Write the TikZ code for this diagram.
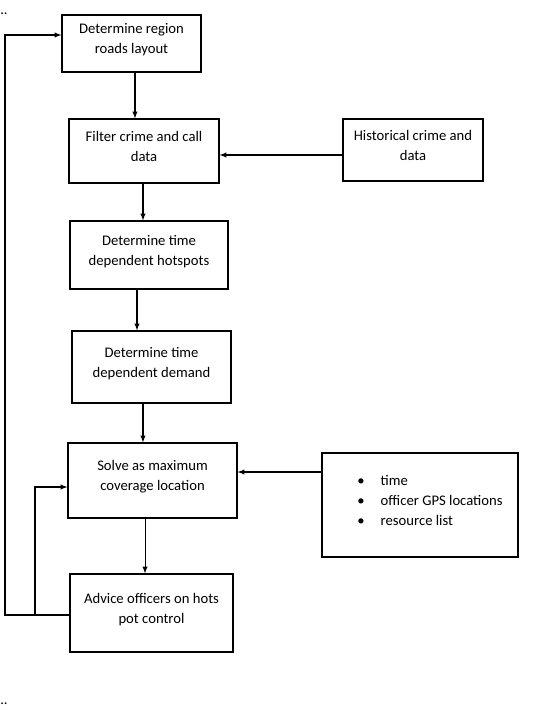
\documentclass[tikz,border=0pt]{standalone}
\usepackage{fontspec}
\setmainfont{Carlito}
\tikzset{
  stepbox/.style={draw,black,line width=0.8pt,align=center,text depth=7pt,font=\fontsize{11}{15}\selectfont},
  flow/.style={->,line width=0.8pt}
}
\begin{document}
\begin{tikzpicture}[x=0.75pt,y=-0.75pt,>=latex]
\useasboundingbox (0,0) rectangle (554,711);
\node[stepbox,minimum width=104.25pt,minimum height=42.75pt] (region) at (131.5,43.5) {Determine region\\roads layout};
\node[stepbox,minimum width=112.5pt,minimum height=48pt] (filter) at (144,151) {Filter crime and call\\data};
\node[stepbox,minimum width=105pt,minimum height=46.5pt] (history) at (413,150) {Historical crime and\\data};
\node[stepbox,minimum width=118.5pt,minimum height=51pt] (hotspots) at (149,255) {Determine time\\dependent hotspots};
\node[stepbox,minimum width=119.25pt,minimum height=54pt] (demand) at (151.5,367) {Determine time\\dependent demand};
\node[stepbox,minimum width=126.75pt,minimum height=56.25pt] (solve) at (152.5,480.5) {Solve as maximum\\coverage location};
\node[stepbox,minimum width=147pt,minimum height=78pt,text depth=25pt] (inputs) at (420,505) {%
  \hspace{15pt}\begin{tabular}{@{}l@{\hspace{12pt}}l@{}}
  \textbullet & time\\
  \textbullet & officer GPS locations\\
  \textbullet & resource list
  \end{tabular}};
\node[stepbox,minimum width=122.25pt,minimum height=58.5pt] (advice) at (151.5,613) {Advice officers on hots\\pot control};
\node[font=\fontsize{11}{15}\selectfont,anchor=base west,inner sep=0pt] (dtop) at (0,14) {..};
\node[font=\fontsize{11}{15}\selectfont,anchor=base west,inner sep=0pt] (dbot) at (0,704) {..};
% main chain
\draw[flow] ([xshift=2.6pt]region.south) -- ([xshift=2.6pt]region.south |- filter.north);
\draw[flow] ([xshift=-0.75pt]filter.south) -- ([xshift=-0.75pt]filter.south |- hotspots.north);
\draw[flow] ([xshift=-9pt]hotspots.south) -- ([xshift=-9pt]hotspots.south |- demand.north);
\draw[flow] ([xshift=-6.4pt]demand.south) -- ([xshift=-6.4pt]demand.south |- solve.north);
\draw[flow] ([xshift=-5.6pt]solve.south) -- ([xshift=-5.6pt]solve.south |- advice.north);
% side inputs
\draw[flow] ([yshift=-3.75pt]history.west) -- ([yshift=-3.75pt]history.west -| filter.east);
\draw[flow] ([yshift=24.75pt]inputs.west) -- ([yshift=24.75pt]inputs.west -| solve.east);
% feedback loops
\coordinate (lb) at (5,615);
\coordinate (lt) at (5,35);
\coordinate (ib) at (35,615);
\coordinate (it) at (35,487);
\draw[flow] (advice.west |- lb) -- (lb) -- (lt) -- (lt -| region.west);
\draw[flow] (ib) -- (it) -- (it -| solve.west);
\end{tikzpicture}
\end{document}
